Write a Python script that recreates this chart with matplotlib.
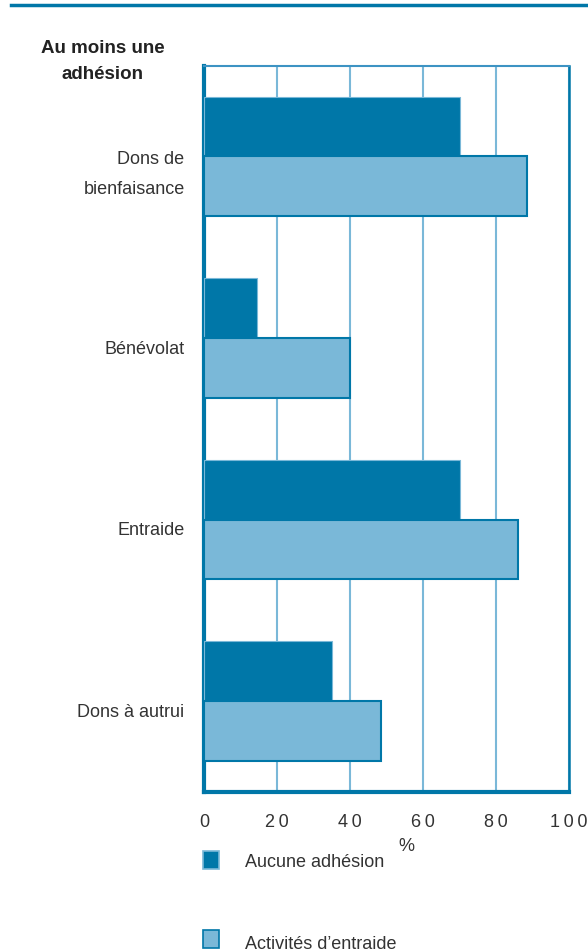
import matplotlib

matplotlib.use("Agg")
import matplotlib.pyplot as plt  # noqa: E402
import numpy as np  # noqa: E402
from matplotlib.lines import Line2D  # noqa: E402
from matplotlib.patches import Rectangle  # noqa: E402

CATEGORIES = ["Dons de\nbienfaisance", "Bénévolat", "Entraide", "Dons à autrui"]
AUCUNE = [70, 14.5, 70, 35]
ENTRAIDE = [88.5, 40, 86, 48.5]
SERIES_LABELS = ["Aucune adhésion", "Activités d\u2019entraide"]
XTICKS = [0, 20, 40, 60, 80, 100]
XTICK_LABELS = ["0", "2\u20090", "4\u20090", "6\u20090", "8\u20090",
                "1\u20090\u20090"]

DARK = "#0077A8"
LIGHT = "#7AB8D8"
TEXT = "#333333"

plt.rcParams["font.family"] = ["Liberation Sans", "DejaVu Sans"]

fig = plt.figure(figsize=(5.88, 9.53), dpi=100)
ax = fig.add_axes([0.347, 0.168, 0.621, 0.762])

y = np.arange(len(CATEGORIES))
h = 0.33
ax.barh(y - h / 2, AUCUNE, height=h, color=DARK, edgecolor=LIGHT,
        linewidth=0.8, zorder=3)
ax.barh(y + h / 2, ENTRAIDE, height=h, color=LIGHT, edgecolor=DARK,
        linewidth=1.5, zorder=3)

ax.set_xlim(0, 100)
ax.set_ylim(3.5, -0.5)
ax.set_xticks(XTICKS)
ax.set_xticklabels(XTICK_LABELS, fontsize=13, color=TEXT)
ax.set_yticks(y + 0.045)
ax.set_yticklabels(CATEGORIES, fontsize=13, color=TEXT, linespacing=2.0)
ax.tick_params(length=0, pad=14, axis="y")
ax.tick_params(length=0, pad=15, axis="x")
ax.grid(True, axis="x", color=LIGHT, linewidth=1.5, zorder=0)
ax.set_axisbelow(True)

ax.spines["left"].set_color(DARK)
ax.spines["left"].set_linewidth(3)
ax.spines["bottom"].set_color(DARK)
ax.spines["bottom"].set_linewidth(3)
ax.spines["right"].set_color(DARK)
ax.spines["right"].set_linewidth(1.8)
ax.spines["top"].set_color("#3d93c3")
ax.spines["top"].set_linewidth(1.5)

ax.set_xlabel("%", fontsize=13, color=TEXT)
ax.xaxis.set_label_coords(0.553, -0.0745)
ax.xaxis.label.set_va("center")

# top rule
fig.add_artist(Line2D([0.019, 1.0], [0.9942, 0.9942], color=DARK,
                      linewidth=2.5, transform=fig.transFigure))

fig.text(0.175, 0.9355, "Au moins une\nadhésion", ha="center", va="center",
         fontsize=13.5, fontweight="bold", color="#222222", linespacing=1.75)

# legend
for i, (lab, fc, ec) in enumerate(zip(SERIES_LABELS, [DARK, LIGHT],
                                      [LIGHT, DARK])):
    ypos = 0.0966 - i * 0.083
    fig.add_artist(Rectangle((0.346, ypos - 0.009), 0.027, 0.018,
                             facecolor=fc, edgecolor=ec, linewidth=1.2,
                             transform=fig.transFigure))
    fig.text(0.417, ypos - 0.003 * i - 0.002, lab, ha="left", va="center",
             fontsize=13, color=TEXT)

plt.savefig("out.png", dpi=100)
